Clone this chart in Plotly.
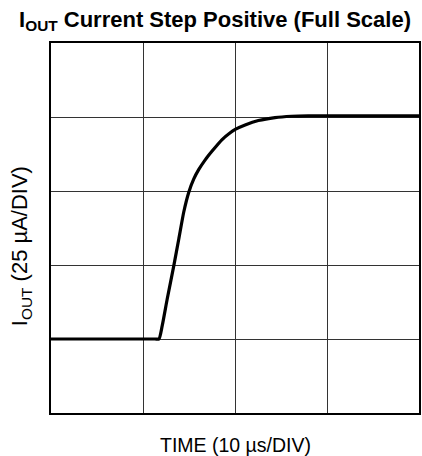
import plotly.graph_objects as go

time_us = [0, 6, 11.3, 11.73, 12.09, 12.63, 13.35, 13.89, 14.43, 14.97, 15.51, 16.05, 16.78, 17.49,
           18.57, 19.48, 20.02, 21.10, 22.54, 24.35, 26.15, 27.95, 34, 40]
iout_uA = [25, 25, 25, 25, 29.5, 38.5, 49.8, 58.8, 67.9, 74.5, 79.0, 82.2, 85.6, 88.4,
           92.3, 94.7, 95.8, 97.3, 98.8, 99.8, 100.25, 100.4, 100.4, 100.4]

x_ticks = [0, 10, 20, 30, 40]
y_ticks = [0, 25, 50, 75, 100, 125]

FONT = "Liberation Sans, Arial, sans-serif"

fig = go.Figure()
fig.add_trace(go.Scatter(x=time_us, y=iout_uA, mode="lines",
                         line=dict(color="black", width=3.2, shape="spline", smoothing=0.6),
                         hoverinfo="skip"))

axis_common = dict(showgrid=True, gridcolor="#333333", gridwidth=1, zeroline=False,
                   showline=True, linecolor="black", linewidth=2, mirror=True,
                   ticks="", showticklabels=False, fixedrange=True)

fig.update_xaxes(range=[0, 40], tickvals=x_ticks, **axis_common)
fig.update_yaxes(range=[0, 125], tickvals=y_ticks, **axis_common)

fig.update_layout(
    width=422, height=456,
    margin=dict(l=51, r=1, t=43, b=43),
    paper_bgcolor="white", plot_bgcolor="white",
    showlegend=False,
    font=dict(family=FONT, color="black"),
    title=dict(text="<b>I<sub>OUT</sub> Current Step Positive (Full Scale)</b>",
               font=dict(size=22, family=FONT, color="black"),
               xref="container", x=215/422, xanchor="center",
               yref="container", y=1-19/456, yanchor="middle"),
    annotations=[
        dict(text="TIME (10 µs/DIV)", xref="paper", yref="paper",
             x=0.5, y=-(445-413)/370, xanchor="center", yanchor="middle",
             showarrow=False, font=dict(size=19.5, family=FONT, color="black")),
        dict(text="I<sub>OUT</sub> (25 µA/DIV)", xref="paper", yref="paper",
             x=(21-51)/370, y=(413-246)/370, xanchor="center", yanchor="middle",
             textangle=-90, showarrow=False,
             font=dict(size=22, family=FONT, color="black")),
    ],
)

fig.write_html("out.html", config={"displayModeBar": False, "staticPlot": True},
               post_script="document.body.style.margin='0';document.body.style.overflow='hidden';")
